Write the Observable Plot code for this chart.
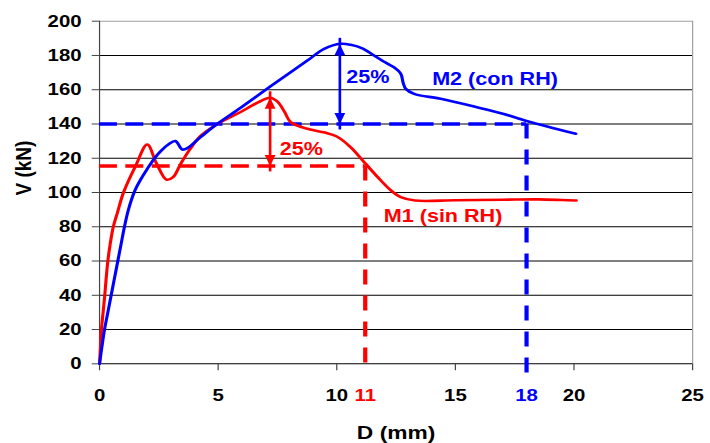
<!DOCTYPE html>
<html><head><meta charset="utf-8">
<script src="https://cdn.jsdelivr.net/npm/d3@7"></script>
<script src="https://cdn.jsdelivr.net/npm/@observablehq/plot@0.6"></script>
<style>body{margin:0;background:#fff;} #chart svg{display:block}</style>
</head><body><div id="chart"></div>
<script>
// Series M1 (sin RH)
const m1D = [0, 0.04, 0.08, 0.15, 0.22, 0.28, 0.35, 0.45, 0.58, 0.75, 1.01, 1.52, 2.01, 2.4, 2.83, 3.1, 3.42, 3.8, 4.26, 4.97, 5.95, 6.6, 7.19, 7.5, 7.8, 8.06, 8.76, 9.5, 10.0, 10.59, 11.22, 11.86, 12.3, 12.7, 13.3, 15.0, 17.0, 18.5, 19.5, 20.1];
const m1V = [0, 10, 20, 30, 40, 50, 60, 70, 80, 88, 100, 115.5, 128, 117, 107.5, 109, 116.7, 125, 133, 140, 147, 152, 155.3, 153, 147, 141, 137.2, 135, 132.7, 126.4, 116.7, 107, 101, 97.3, 95.3, 95.5, 95.8, 96, 95.6, 95.3];
// Series M2 (con RH)
const m2D = [0, 0.1, 0.21, 0.35, 0.49, 0.63, 0.77, 0.91, 1.05, 1.2, 1.35, 1.5, 1.73, 2.0, 2.32, 2.57, 2.9, 3.2, 3.49, 3.7, 4.26, 4.97, 5.95, 7.36, 8.76, 9.47, 10.17, 10.59, 11.1, 11.57, 12.1, 12.41, 12.7, 12.8, 12.91, 13.26, 14.38, 15.9, 17.0, 18.04, 20.08];
const m2V = [0, 10, 20, 30, 40, 50, 60, 70, 80, 89, 96, 101.5, 107.5, 113.5, 120, 124, 128, 130, 125.1, 125.9, 132.3, 140.1, 149.5, 163.5, 177, 183.9, 186.8, 186.2, 184, 180, 175.5, 173.1, 169.3, 164, 160.5, 157.6, 154.7, 149.8, 146, 141.6, 134.3];

const xTicks = [0, 5, 10, 15, 20, 25];
const yTicks = [0, 20, 40, 60, 80, 100, 120, 140, 160, 180, 200];
const gridV = [20, 40, 60, 80, 100, 120, 140, 160, 180];

// reference levels (index 0: M1, index 1: M2)
const refLevel = [115.5, 140];
const refD = [11.2, 18];
const refLowEnd = [-2.8, -10.7];
const refLabel = ["11", "18"];

// 25% arrows
const arrowD = [7.19, 10.13];
const arrowTop = [155.3, 186.5];
const arrowBottom = [115.5, 140];
const pctLabel = ["25%", "25%"];
const pctD = [7.6, 10.4];
const pctV = [125, 167.5];

// series names
const seriesName = ["M1 (sin RH)", "M2 (con RH)"];
const nameD = [11.98, 14.02];
const nameV = [86.2, 166.2];

const colors = ["#ff0000", "#0000ff"];
const idx = [0, 1];

const m1 = m1D.map((d, i) => ({D: d, V: m1V[i]}));
const m2 = m2D.map((d, i) => ({D: d, V: m2V[i]}));

const upHead = {draw(ctx) { ctx.moveTo(0, 0); ctx.lineTo(4.5, 11); ctx.lineTo(-4.5, 11); ctx.closePath(); }};
const downHead = {draw(ctx) { ctx.moveTo(0, 0); ctx.lineTo(4.5, -11); ctx.lineTo(-4.5, -11); ctx.closePath(); }};

const W = 592, H = 443;
const font = "'Liberation Sans', Arial, Helvetica, sans-serif";

const svg = Plot.plot({
  width: W, height: H,
  marginLeft: 82.5, marginRight: 15, marginTop: 20.7, marginBottom: 79.7,
  x: {domain: [0, 25]},
  y: {domain: [0, 200]},
  style: {fontFamily: font, fontWeight: "bold", fontSize: "17px", color: "#000", background: "#fff"},
  marks: [
    Plot.ruleY(gridV, {stroke: "#000", strokeWidth: 1}),
    Plot.ruleY([200], {stroke: "#a0a0a0", strokeWidth: 1}),
    Plot.ruleX([25], {stroke: "#a0a0a0", strokeWidth: 1}),
    Plot.ruleX([0], {stroke: "#444", strokeWidth: 1}),
    Plot.ruleY([0], {stroke: "#000", strokeWidth: 1}),
    Plot.axisX({ticks: xTicks, tickSize: 7, tickPadding: 18, fontSize: 17, label: null, stroke: "#444"}),
    Plot.axisY({ticks: yTicks, tickSize: 6, tickPadding: 9, fontSize: 17, label: null, stroke: "#444"}),
    // dashed reference lines
    Plot.ruleY(idx, {y: i => refLevel[i], x1: 0, x2: i => refD[i], stroke: i => colors[i], strokeWidth: 3.5, strokeDasharray: "15,7"}),
    Plot.ruleX(idx, {x: i => refD[i], y1: i => refLevel[i], y2: i => refLowEnd[i], stroke: i => colors[i], strokeWidth: 3.5, strokeDasharray: "15,11"}),
    // curves
    Plot.line(m1, {x: "D", y: "V", stroke: colors[0], strokeWidth: 2.6, curve: "catmull-rom"}),
    Plot.line(m2, {x: "D", y: "V", stroke: colors[1], strokeWidth: 2.6, curve: "catmull-rom"}),
    // arrows
    Plot.ruleX(idx, {x: i => arrowD[i], y1: i => arrowBottom[i], y2: i => arrowTop[i], stroke: i => colors[i], strokeWidth: 2.2, insetTop: 6, insetBottom: 6}),
    Plot.dot(idx, {x: i => arrowD[i], y: i => arrowTop[i], fill: i => colors[i], stroke: null, symbol: upHead}),
    Plot.dot(idx, {x: i => arrowD[i], y: i => arrowBottom[i], fill: i => colors[i], stroke: null, symbol: downHead}),
    // labels
    Plot.text(idx, {x: i => pctD[i], y: i => pctV[i], text: i => pctLabel[i], fill: i => colors[i], textAnchor: "start", lineAnchor: "middle", fontSize: 18}),
    Plot.text(idx, {x: i => nameD[i], y: i => nameV[i], text: i => seriesName[i], fill: i => colors[i], textAnchor: "start", lineAnchor: "middle", fontSize: 18}),
    Plot.text(idx, {x: i => refD[i], y: 0, text: i => refLabel[i], fill: i => colors[i], lineAnchor: "top", dy: 25, fontSize: 17}),
    Plot.text(["D (mm)"], {text: d => d, frameAnchor: "bottom", dy: 69, lineAnchor: "middle", fontSize: 19}),
    Plot.text(["V (kN)"], {text: d => d, frameAnchor: "left", rotate: -90, dx: -63.3, dy: 3, lineAnchor: "middle", fontSize: 19})
  ]
});
svg.setAttribute("width", 710);
svg.setAttribute("height", H);
svg.setAttribute("preserveAspectRatio", "none");
svg.style.width = "710px";
svg.style.height = H + "px";
svg.style.maxWidth = "none";
document.getElementById("chart").appendChild(svg);
</script>
</body></html>
